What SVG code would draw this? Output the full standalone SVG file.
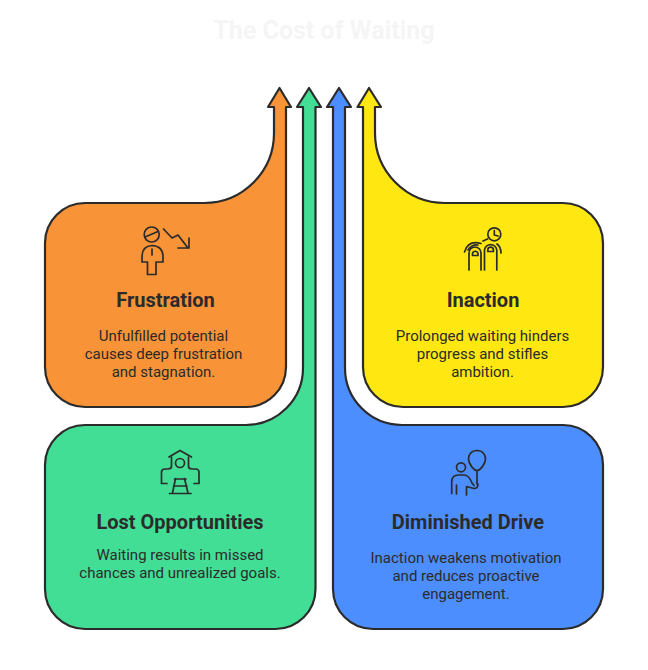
<svg xmlns="http://www.w3.org/2000/svg" width="648" height="670" viewBox="0 0 648 670">
<style>
.shape{stroke:#2b2b2b;stroke-width:2.2;stroke-linejoin:round}
.ic{fill:none;stroke:#2b2b2b;stroke-width:1.7;stroke-linecap:round;stroke-linejoin:round}
text{font-family:Roboto,"Liberation Sans",sans-serif;text-anchor:middle;fill:#2b2b2b}
.t{font-size:20px;font-weight:700}
.b{font-size:15px}
.title{font-size:25px;font-weight:700;fill:#f5f5f5}
</style>
<rect width="648" height="670" fill="#fff"/>
<text class="title" x="324" y="39">The Cost of Waiting</text>
<g id="frustration">
<path class="shape" fill="#f99338" d="M279.500 88 L291 107 H286 V367 A40 40 0 0 1 246 407 H85 A40 40 0 0 1 45 367 V243 A40 40 0 0 1 85 203 H204 A70 70 0 0 0 274 133 V107 H268 Z"/>
<g class="ic"><circle cx="151.700" cy="234.500" r="7.500"/><path d="M145 237 L158 231.500"/><path d="M142 262 V257 Q142 246 152 245.500 Q163 246 163 257 V262 H156 V274.500 H147.500 V262 Z"/><path d="M152 249 V255"/><path d="M163.500 229 L172 238 L178 235 L188 248 M189 238 V248 H178"/></g>
<text class="t" x="165.500" y="307">Frustration</text>
<text class="b" x="163.500" y="341">Unfulfilled potential</text>
<text class="b" x="163.500" y="359">causes deep frustration</text>
<text class="b" x="163.500" y="377">and stagnation.</text>
</g>
<g id="inaction">
<path class="shape" fill="#ffe711" d="M369 88 L357.500 107 H363 V367 A40 40 0 0 0 403 407 H563 A40 40 0 0 0 603 367 V243 A40 40 0 0 0 563 203 H445 A70 70 0 0 1 375 133 V107 H381 Z"/>
<g class="ic"><circle cx="494.300" cy="234.300" r="6.500"/><path d="M494.300 230.500 V235 L498 236"/><path d="M469 270 V253 A6 6 0 0 1 481 253 V270"/><path d="M472.500 255.500 V253.500 A2.800 2.800 0 0 1 478 253.500 V255.500 Z"/><path d="M484.500 270 V250 A6.200 6.200 0 0 1 496.800 250 V270"/><path d="M487.800 251.500 V250 A2.800 2.800 0 0 1 493.400 250 V251.500 Z"/><path d="M464.500 252 Q468 240 481 243.500 M468 250 Q472 244 478 245"/><path d="M483 241 L487.500 239 M497 244 Q501 247 501 253"/></g>
<text class="t" x="483" y="307">Inaction</text>
<text class="b" x="482.500" y="341">Prolonged waiting hinders</text>
<text class="b" x="482.500" y="359">progress and stifles</text>
<text class="b" x="482.500" y="377">ambition.</text>
</g>
<g id="lost-opportunities">
<path class="shape" fill="#43de95" d="M309 88 L321 107 H315.500 V589 A40 40 0 0 1 275.500 629 H85 A40 40 0 0 1 45 589 V465 A40 40 0 0 1 85 425 H246 A57 57 0 0 0 303 368 V107 H297 Z"/>
<g class="ic"><path d="M169 457 L180 450.500 L191.500 457"/><path d="M171.500 457 V466 Q171.500 469 168 469 H165 Q161.500 469 161.500 472 V483.500 H167 M188.500 457 V466 Q188.500 469 192 469 H195 Q199 469 199 472 V483.500 H194"/><circle cx="180" cy="463" r="4.500"/><path d="M175.500 478.500 L172.500 493 M184.500 478.500 L188 493 M174.500 479 H186 M173.500 486 H187 M169.500 493.500 H191"/></g>
<text class="t" x="180" y="529">Lost Opportunities</text>
<text class="b" x="180" y="560">Waiting results in missed</text>
<text class="b" x="180" y="578">chances and unrealized goals.</text>
</g>
<g id="diminished-drive">
<path class="shape" fill="#4d8eff" d="M339 88 L327 107 H333 V589 A40 40 0 0 0 373 629 H563 A40 40 0 0 0 603 589 V465 A40 40 0 0 0 563 425 H402 A57 57 0 0 1 345 368 V107 H351 Z"/>
<g class="ic"><path d="M477 450.500 C483 450.500 485.500 455 485.500 459 C485.500 464 480 470.500 477 470.500 C474 470.500 468.500 464 468.500 459 C468.500 455 471 450.500 477 450.500 Z"/><path d="M477 470.500 V484"/><circle cx="461" cy="467.300" r="4.500"/><path d="M451.700 493.500 V482 Q451.700 475 458.500 475 H464 Q469 475 472 483 L474 485.500 M456.500 494 V485 M466.500 495 V486.500 L474 488.500 Q478 488.500 478 484"/></g>
<text class="t" x="468" y="529">Diminished Drive</text>
<text class="b" x="466" y="563">Inaction weakens motivation</text>
<text class="b" x="466" y="581">and reduces proactive</text>
<text class="b" x="466" y="599">engagement.</text>
</g>
<g id="connectors"></g>
</svg>
